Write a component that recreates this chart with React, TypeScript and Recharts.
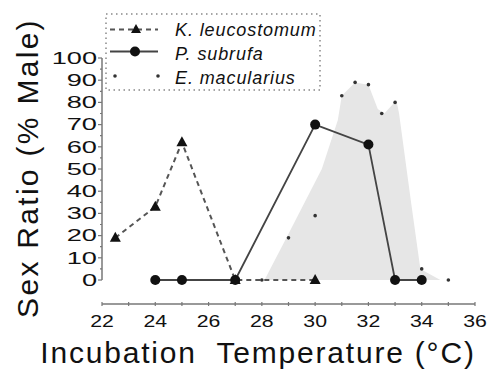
import React from "react";
import {
  ComposedChart,
  Line,
  Area,
  XAxis,
  YAxis,
  ReferenceLine,
} from "recharts";

// Sex ratio vs incubation temperature, three species

const xTicks = [22, 23, 24, 25, 26, 27, 28, 29, 30, 31, 32, 33, 34, 35, 36];
const yTicks = [0, 5, 10, 15, 20, 25, 30, 35, 40, 45, 50, 55, 60, 65, 70, 75, 80, 85, 90, 95, 100];

const kTemp = [22.5, 24, 25, 27, 30];
const kRatio = [19, 33, 62, 0, 0];

const pTemp = [24, 25, 27, 30, 32, 33, 34];
const pRatio = [0, 0, 0, 70, 61, 0, 0];

const eTemp = [28, 29, 30, 31, 31.5, 32, 32.5, 33, 34, 35];
const eRatio = [0, 19, 29, 83, 89, 88, 75, 80, 5, 0];

// grey envelope behind E. macularius
const shadeTemp = [28.1, 29.05, 30.25, 30.85, 31.0, 31.5, 32.0, 32.35, 32.6, 33.05, 33.15, 33.6, 33.95, 34.7];
const shadeRatio = [0, 22, 50, 72, 83, 89, 88, 77, 75, 81, 75, 35, 5, 0];

const zip = (t: number[], v: number[]) => t.map((x, i) => ({ t: x, v: v[i] }));

const kData = zip(kTemp, kRatio);
const pData = zip(pTemp, pRatio);
const eData = zip(eTemp, eRatio);
const shadeData = zip(shadeTemp, shadeRatio);

const FONT = '"Liberation Sans", Arial, Helvetica, sans-serif';

function Triangle(props: any) {
  const { cx, cy, index } = props;
  if (cx == null || cy == null) return null;
  return (
    <path
      key={`tri-${index}`}
      d={`M${cx},${cy - 6} L${cx + 5.5},${cy + 4} L${cx - 5.5},${cy + 4} Z`}
      fill="#111"
    />
  );
}

function XTick(props: any) {
  const { x, y, payload } = props;
  const v = payload.value as number;
  return (
    <g>
      <line x1={x} x2={x} y1={y - 2} y2={y + 2} stroke="#777" strokeWidth={1.2} />
      {v % 2 === 0 && (
        <text
          transform={`translate(${x},${y + 23}) scale(1.25,1)`}
          textAnchor="middle"
          fontSize={17}
          fontFamily={FONT}
          fill="#111"
        >
          {v}
        </text>
      )}
    </g>
  );
}

function YTick(props: any) {
  const { x, y, payload } = props;
  const v = payload.value as number;
  const major = v % 10 === 0;
  return (
    <g>
      <line x1={x - (major ? 4 : 2)} x2={x} y1={y} y2={y} stroke="#777" strokeWidth={1.2} />
      {major && (
        <text
          transform={`translate(${x - 5},${y + 5.8}) scale(1.7,1)`}
          textAnchor="end"
          fontSize={16}
          fontFamily={FONT}
          fill="#111"
        >
          {v}
        </text>
      )}
    </g>
  );
}

function Overlay() {
  return (
    <svg
      width={487}
      height={371}
      style={{ position: "absolute", left: 0, top: 0, pointerEvents: "none" }}
    >
      {/* legend */}
      <rect x={106} y={14} width={214} height={76} fill="none" stroke="#888" strokeWidth={1.5} strokeDasharray="1.5 3.5" />
      <line x1={110} x2={158} y1={29.5} y2={29.5} stroke="#555" strokeWidth={2} strokeDasharray="5 4" />
      <path d="M136,24 L141,33 L131,33 Z" fill="#111" />
      <line x1={110} x2={158} y1={51.5} y2={51.5} stroke="#444" strokeWidth={1.8} />
      <circle cx={135} cy={51.5} r={5} fill="#111" />
      <circle cx={115} cy={76} r={1.8} fill="#333" />
      <circle cx={158} cy={76} r={1.8} fill="#333" />
      <g fontFamily={FONT} fontStyle="italic" fontSize={18} letterSpacing={0.9} fill="#111">
        <text x={175} y={36}>K. leucostomum</text>
        <text x={175} y={59.5}>P. subrufa</text>
        <text x={175} y={83.5}>E. macularius</text>
      </g>
      {/* axis titles */}
      <text
        x={258}
        y={363}
        textAnchor="middle"
        fontFamily={FONT}
        fontSize={30}
        letterSpacing={1.8}
        fill="#111"
      >
        {"Incubation\u00a0 Temperature (°C)"}
      </text>
      <text
        transform="translate(38,168) rotate(-90)"
        textAnchor="middle"
        fontFamily={FONT}
        fontSize={30}
        letterSpacing={2.3}
        fill="#111"
      >
        Sex Ratio (% Male)
      </text>
    </svg>
  );
}

export default function App() {
  return (
    <div style={{ position: "absolute", left: 0, top: 0, width: 487, height: 371, background: "#fff" }}>
      <ComposedChart width={487} height={371} margin={{ top: 58, right: 12, bottom: 0, left: 0 }}>
        <XAxis
          type="number"
          dataKey="t"
          domain={[22, 36]}
          ticks={xTicks}
          interval={0}
          allowDataOverflow
          tick={<XTick />}
          tickLine={false}
          tickSize={0}
          tickMargin={0}
          axisLine={{ stroke: "#777", strokeWidth: 1.5 }}
          height={67}
        />
        <YAxis
          type="number"
          domain={[-10.8, 100]}
          ticks={yTicks}
          interval={0}
          allowDataOverflow
          tick={<YTick />}
          tickLine={false}
          tickSize={0}
          tickMargin={0}
          axisLine={false}
          width={102}
        />
        <Area
          data={shadeData}
          dataKey="v"
          type="linear"
          baseValue={0}
          fill="#e6e6e6"
          fillOpacity={1}
          stroke="none"
          isAnimationActive={false}
        />
        <ReferenceLine
          segment={[{ x: 22, y: 0 }, { x: 22, y: 100 }]}
          stroke="#777"
          strokeWidth={1.5}
        />
        <Line
          data={pData}
          dataKey="v"
          type="linear"
          stroke="#444"
          strokeWidth={1.8}
          dot={{ r: 5, fill: "#111", stroke: "none" }}
          isAnimationActive={false}
        />
        <Line
          data={kData}
          dataKey="v"
          type="linear"
          stroke="#555"
          strokeWidth={2}
          strokeDasharray="5 4"
          dot={Triangle}
          isAnimationActive={false}
        />
        <Line
          data={eData}
          dataKey="v"
          type="linear"
          stroke="none"
          dot={{ r: 1.8, fill: "#333", stroke: "none" }}
          isAnimationActive={false}
        />
      </ComposedChart>
      <Overlay />
    </div>
  );
}
